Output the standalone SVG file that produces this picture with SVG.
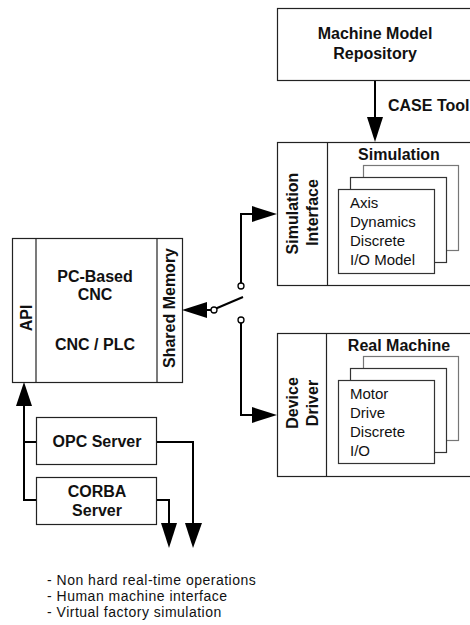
<svg xmlns="http://www.w3.org/2000/svg" width="470" height="625" viewBox="0 0 470 625">
<style>
.box{fill:#fff;stroke:#222;stroke-width:1.2}
.card{fill:#fff;stroke:#333;stroke-width:1.2}
.card2{fill:#fff;stroke:#777;stroke-width:1.2}
.b{font-family:"Liberation Sans",Arial,sans-serif;font-weight:bold;font-size:16px;fill:#111}
.r{font-family:"Liberation Sans",Arial,sans-serif;font-size:15px;fill:#111}
.n{font-family:"Liberation Sans",Arial,sans-serif;font-size:14px;letter-spacing:0.5px;fill:#111}
.c{text-anchor:middle}
.wire{fill:none;stroke:#000;stroke-width:2}
.head{fill:#000}
.dot{fill:#fff;stroke:#000;stroke-width:1.3}
</style>
<rect width="470" height="625" fill="#fff"/>

<g id="repository">
<rect class="box" x="277.5" y="8.5" width="200" height="72"/>
<text class="b c" x="375" y="39">Machine Model</text>
<text class="b c" x="375" y="59">Repository</text>
</g>

<g id="simulation">
<rect class="box" x="277.5" y="142.5" width="200" height="143"/>
<line x1="327.5" y1="142.5" x2="327.5" y2="285.5" stroke="#222" stroke-width="1.2"/>
<text class="b c" transform="translate(298,213.5) rotate(-90)">Simulation</text>
<text class="b c" transform="translate(317.5,212.5) rotate(-90)">Interface</text>
<text class="b c" x="399" y="160">Simulation</text>
<rect class="card2" x="363.5" y="165.5" width="95" height="85"/>
<rect class="card" x="350.5" y="177.5" width="96" height="85"/>
<rect class="card" x="338.5" y="189.5" width="96" height="84"/>
<text class="r" x="350" y="208">Axis</text>
<text class="r" x="350" y="227">Dynamics</text>
<text class="r" x="350" y="246">Discrete</text>
<text class="r" x="350" y="265">I/O Model</text>
</g>

<g id="realmachine">
<rect class="box" x="277.5" y="333.5" width="200" height="143"/>
<line x1="326.5" y1="333.5" x2="326.5" y2="476.5" stroke="#222" stroke-width="1.2"/>
<text class="b c" transform="translate(298,403) rotate(-90)">Device</text>
<text class="b c" transform="translate(318,403) rotate(-90)">Driver</text>
<text class="b c" x="399" y="351">Real Machine</text>
<rect class="card2" x="363.5" y="356.5" width="95" height="84"/>
<rect class="card" x="350.5" y="368.5" width="96" height="84"/>
<rect class="card" x="338.5" y="380.5" width="96" height="83"/>
<text class="r" x="350" y="399">Motor</text>
<text class="r" x="350" y="418">Drive</text>
<text class="r" x="350" y="437">Discrete</text>
<text class="r" x="350" y="456">I/O</text>
</g>

<g id="cnc">
<rect class="box" x="12.5" y="238.5" width="170" height="144"/>
<line x1="36" y1="238.5" x2="36" y2="382.5" stroke="#222" stroke-width="1.2"/>
<line x1="157" y1="238.5" x2="157" y2="382.5" stroke="#222" stroke-width="1.2"/>
<text class="b c" transform="translate(32,318) rotate(-90)">API</text>
<text class="b c" transform="translate(175,308) rotate(-90)">Shared Memory</text>
<text class="b c" x="95" y="282">PC-Based</text>
<text class="b c" x="95" y="300">CNC</text>
<text class="b c" x="95" y="350">CNC / PLC</text>
</g>

<g id="opc">
<rect class="box" x="36.5" y="417.5" width="120" height="47"/>
<text class="b c" x="97" y="447">OPC Server</text>
</g>

<g id="corba">
<rect class="box" x="36.5" y="477.5" width="120" height="47"/>
<text class="b c" x="97" y="497">CORBA</text>
<text class="b c" x="97" y="516">Server</text>
</g>

<g id="connectors">
<line class="wire" x1="375" y1="81" x2="375" y2="118"/>
<polygon class="head" points="367,117 383,117 375,142"/>
<text class="b" x="388" y="111">CASE Tool</text>

<polygon class="head" points="182,310 207,302 207,318"/>
<line class="wire" x1="206" y1="310" x2="211" y2="310"/>
<line class="wire" x1="216" y1="308.5" x2="243" y2="297"/>
<circle class="dot" cx="214" cy="310" r="3"/>

<polyline class="wire" points="241,283 241,214 253,214"/>
<polygon class="head" points="277,214 252,206 252,222"/>
<circle class="dot" cx="241" cy="286" r="3"/>

<polyline class="wire" points="241,323 241,415 253,415"/>
<polygon class="head" points="277,415 252,407 252,423"/>
<circle class="dot" cx="241" cy="320" r="3"/>

<polyline class="wire" points="24,404 24,500 36,500"/>
<line class="wire" x1="24" y1="442" x2="36" y2="442"/>
<polygon class="head" points="24,382 16,406 32,406"/>

<polyline class="wire" points="157,442 193,442 193,525"/>
<polygon class="head" points="185,523 202,523 193,548"/>
<polyline class="wire" points="157,500 169,500 169,525"/>
<polygon class="head" points="161,523 177,523 169,548"/>
</g>

<g id="notes">
<text class="n" x="47" y="585">- Non hard real-time operations</text>
<text class="n" x="47" y="601">- Human machine interface</text>
<text class="n" x="47" y="617">- Virtual factory simulation</text>
</g>
</svg>
